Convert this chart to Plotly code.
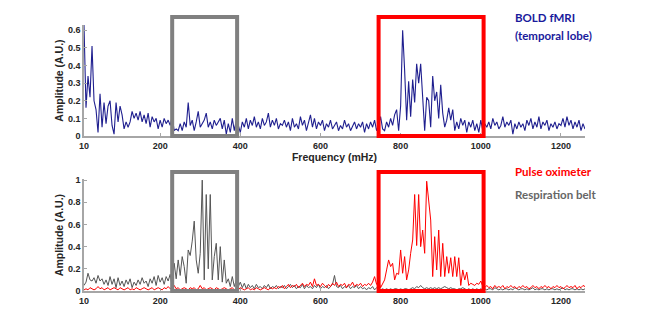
import plotly.graph_objects as go

# frequency grid (mHz)
freq = list(range(10, 1261, 5))

# BOLD fMRI (temporal lobe) amplitude spectrum
bold_amp = [
    # 10-225
    0.63, 0.16, 0.34, 0.22, 0.51, 0.20, 0.15, 0.02, 0.24, 0.05,
    0.19, 0.07, 0.17, 0.20, 0.06, 0.01, 0.19, 0.08, 0.17, 0.12,
    0.04, 0.08, 0.05, 0.08, 0.14, 0.10, 0.13, 0.09, 0.14, 0.08,
    0.12, 0.07, 0.13, 0.05, 0.11, 0.08, 0.10, 0.04, 0.09, 0.05,
    0.10, 0.07, 0.09, 0.06,
    # 230-390
    0.11, 0.03, 0.04, 0.03, 0.07, 0.03, 0.08, 0.05, 0.19, 0.06,
    0.09, 0.03, 0.08, 0.14, 0.05, 0.07, 0.09, 0.13, 0.05, 0.08,
    0.04, 0.09, 0.06, 0.08, 0.10, 0.04, 0.09, 0.01, 0.07, 0.02,
    0.10, 0.03, 0.09,
    # 395-745
    0.06, 0.02, 0.08, 0.05, 0.10, 0.04, 0.09, 0.06, 0.11, 0.05,
    0.08, 0.04, 0.10, 0.06, 0.08, 0.13, 0.05, 0.09, 0.06, 0.10,
    0.04, 0.07, 0.06, 0.09, 0.05, 0.08, 0.03, 0.10, 0.05, 0.07,
    0.04, 0.11, 0.06, 0.09, 0.03, 0.08, 0.12, 0.05, 0.10, 0.04,
    0.08, 0.06, 0.09, 0.03, 0.07, 0.05, 0.09, 0.04, 0.06, 0.08,
    0.03, 0.06, 0.04, 0.09, 0.05, 0.07, 0.03, 0.06, 0.08, 0.04,
    0.07, 0.05, 0.08, 0.02, 0.07, 0.04, 0.08, 0.05, 0.09, 0.03,
    0.06,
    # 750-1000
    0.11, 0.04, 0.03, 0.08, 0.05, 0.10, 0.06, 0.12, 0.15, 0.03,
    0.17, 0.60, 0.37, 0.09, 0.31, 0.11, 0.32, 0.19, 0.41, 0.30,
    0.41, 0.19, 0.03, 0.22, 0.20, 0.05, 0.34, 0.20, 0.25, 0.10,
    0.29, 0.13, 0.05, 0.09, 0.16, 0.09, 0.15, 0.03, 0.08, 0.04,
    0.10, 0.06, 0.09, 0.02, 0.08, 0.05, 0.09, 0.03, 0.07, 0.02,
    0.09,
    # 1005-1260
    0.03, 0.07, 0.05, 0.08, 0.04, 0.10, 0.06, 0.08, 0.04, 0.06,
    0.11, 0.05, 0.08, 0.06, 0.09, 0.01, 0.07, 0.04, 0.08, 0.05,
    0.07, 0.03, 0.09, 0.06, 0.10, 0.04, 0.08, 0.05, 0.11, 0.04,
    0.08, 0.06, 0.09, 0.03, 0.07, 0.05, 0.08, 0.04, 0.07, 0.06,
    0.10, 0.05, 0.11, 0.06, 0.09, 0.04, 0.08, 0.05, 0.09, 0.03,
    0.07, 0.04,
]

# Respiration belt amplitude spectrum
resp_amp = [
    # 10-225
    0.05, 0.08, 0.16, 0.10, 0.09, 0.12, 0.07, 0.14, 0.09, 0.11,
    0.06, 0.10, 0.05, 0.13, 0.06, 0.11, 0.03, 0.12, 0.05, 0.09,
    0.04, 0.10, 0.06, 0.11, 0.03, 0.08, 0.05, 0.10, 0.06, 0.12,
    0.07, 0.09, 0.04, 0.11, 0.07, 0.13, 0.05, 0.14, 0.08, 0.12,
    0.06, 0.13, 0.09, 0.15,
    # 230-390
    0.04, 0.25, 0.11, 0.28, 0.14, 0.31, 0.22, 0.07, 0.37, 0.32,
    0.45, 0.63, 0.28, 0.16, 0.34, 1.00, 0.10, 0.87, 0.20, 0.87,
    0.10, 0.31, 0.43, 0.10, 0.40, 0.08, 0.28, 0.07, 0.11, 0.04,
    0.13, 0.04, 0.10,
    # 395-745
    0.04, 0.08, 0.03, 0.07, 0.02, 0.06, 0.03, 0.05, 0.02, 0.06,
    0.03, 0.04, 0.02, 0.05, 0.03, 0.06, 0.02, 0.04, 0.03, 0.05,
    0.02, 0.04, 0.03, 0.05, 0.02, 0.04, 0.06, 0.03, 0.05, 0.02,
    0.04, 0.03, 0.06, 0.02, 0.05, 0.03, 0.04, 0.02, 0.05, 0.03,
    0.06, 0.02, 0.04, 0.03, 0.05, 0.02, 0.04, 0.06, 0.14, 0.04,
    0.03, 0.05, 0.02, 0.04, 0.03, 0.05, 0.02, 0.04, 0.03, 0.05,
    0.02, 0.04, 0.02, 0.03, 0.01, 0.03, 0.02, 0.04, 0.01, 0.03,
    0.02,
    # 750-1000
    0.01, 0.02, 0.01, 0.02, 0.01, 0.02, 0.01, 0.02, 0.02, 0.01,
    0.02, 0.01, 0.02, 0.02, 0.01, 0.02, 0.03, 0.02, 0.04, 0.03,
    0.05, 0.03, 0.02, 0.03, 0.02, 0.03, 0.02, 0.03, 0.02, 0.03,
    0.02, 0.03, 0.04, 0.03, 0.02, 0.03, 0.02, 0.02, 0.01, 0.02,
    0.02, 0.03, 0.02, 0.01, 0.02, 0.01, 0.02, 0.01, 0.02, 0.01,
    0.02,
    # 1005-1260
    0.01, 0.02, 0.01, 0.02, 0.02, 0.01, 0.03, 0.02, 0.01, 0.02,
    0.01, 0.02, 0.02, 0.01, 0.02, 0.01, 0.03, 0.02, 0.01, 0.02,
    0.02, 0.01, 0.02, 0.01, 0.02, 0.03, 0.01, 0.02, 0.01, 0.02,
    0.02, 0.01, 0.02, 0.01, 0.02, 0.02, 0.01, 0.02, 0.01, 0.02,
    0.03, 0.01, 0.02, 0.01, 0.02, 0.02, 0.01, 0.02, 0.01, 0.02,
    0.01, 0.02,
]

# Pulse oximeter amplitude spectrum
pulse_amp = [
    # 10-225
    0.01, 0.02, 0.01, 0.03, 0.02, 0.01, 0.02, 0.04, 0.02, 0.03,
    0.01, 0.02, 0.03, 0.01, 0.02, 0.03, 0.02, 0.01, 0.03, 0.02,
    0.01, 0.02, 0.03, 0.01, 0.02, 0.01, 0.03, 0.02, 0.01, 0.02,
    0.03, 0.02, 0.01, 0.02, 0.03, 0.01, 0.02, 0.03, 0.02, 0.01,
    0.03, 0.02, 0.04, 0.02,
    # 230-390
    0.03, 0.05, 0.02, 0.03, 0.01, 0.02, 0.03, 0.02, 0.01, 0.03,
    0.02, 0.03, 0.01, 0.02, 0.05, 0.02, 0.03, 0.01, 0.02, 0.03,
    0.02, 0.01, 0.03, 0.02, 0.01, 0.02, 0.03, 0.02, 0.01, 0.02,
    0.03, 0.01, 0.02,
    # 395-745
    0.01, 0.03, 0.02, 0.01, 0.02, 0.03, 0.01, 0.02, 0.01, 0.03,
    0.02, 0.01, 0.02, 0.03, 0.02, 0.01, 0.03, 0.02, 0.03, 0.02,
    0.04, 0.03, 0.05, 0.02, 0.04, 0.06, 0.03, 0.05, 0.04, 0.06,
    0.03, 0.05, 0.07, 0.04, 0.06, 0.05, 0.08, 0.04, 0.11, 0.05,
    0.06, 0.04, 0.07, 0.05, 0.03, 0.06, 0.04, 0.07, 0.05, 0.08,
    0.04, 0.06, 0.05, 0.07, 0.03, 0.06, 0.05, 0.08, 0.04, 0.06,
    0.05, 0.07, 0.04, 0.06, 0.05, 0.07, 0.05, 0.08, 0.13, 0.06,
    0.09,
    # 750-1000
    0.03, 0.06, 0.10, 0.19, 0.28, 0.22, 0.25, 0.10, 0.16, 0.15,
    0.37, 0.16, 0.31, 0.10, 0.19, 0.34, 0.46, 0.87, 0.41, 0.87,
    0.40, 0.55, 0.34, 0.99, 0.82, 0.64, 0.13, 0.49, 0.19, 0.55,
    0.13, 0.43, 0.13, 0.31, 0.16, 0.30, 0.13, 0.31, 0.13, 0.30,
    0.05, 0.19, 0.10, 0.17, 0.05, 0.07, 0.06, 0.05, 0.07, 0.06,
    0.09,
    # 1005-1260
    0.04, 0.03, 0.05, 0.03, 0.04, 0.02, 0.05, 0.03, 0.04, 0.03,
    0.05, 0.02, 0.04, 0.03, 0.05, 0.03, 0.04, 0.02, 0.04, 0.03,
    0.05, 0.03, 0.04, 0.02, 0.03, 0.05, 0.03, 0.04, 0.02, 0.04,
    0.03, 0.05, 0.03, 0.04, 0.02, 0.04, 0.03, 0.05, 0.03, 0.04,
    0.02, 0.03, 0.05, 0.03, 0.04, 0.03, 0.05, 0.02, 0.04, 0.03,
    0.05, 0.04,
]

x_ticks = [10, 200, 400, 600, 800, 1000, 1200]
top_y_ticks = [0, 0.1, 0.2, 0.3, 0.4, 0.5, 0.6]
bottom_y_ticks = [0, 0.2, 0.4, 0.6, 0.8, 1]
resp_band = [230, 392]
cardiac_band = [745, 1007]

# page is offset by the default 8px body margin; lay out in page pixels
OFF = 8
PAGE_W, PAGE_H = 669, 328
W, H = PAGE_W - OFF, PAGE_H - OFF
PL, PR, PT, PB = 84, 585, 25, 291          # plot area edges in page pixels
ML, MT = PL - OFF, PT - OFF
MR, MB = W - (PR - OFF), H - (PB - OFF)
plot_h = PB - PT
plot_w = PR - PL
def py(ypx):
    return (PB - ypx) / plot_h
def px(xpx):
    return (xpx - PL) / plot_w

TICK_FONT = dict(family="Liberation Sans, Arial, sans-serif", size=9, color="#262626", weight="bold")
TITLE_FONT = dict(family="Liberation Sans, Arial, sans-serif", size=10.5, color="#262626", weight="bold")
AXIS_COLOR = "#a6a6a6"

fig = go.Figure()
fig.add_trace(go.Scatter(x=freq, y=bold_amp, mode="lines", line=dict(color="#1f1f8f", width=1.1),
                         xaxis="x", yaxis="y", showlegend=False, hoverinfo="skip"))
fig.add_trace(go.Scatter(x=freq, y=resp_amp, mode="lines", line=dict(color="#555555", width=1),
                         xaxis="x2", yaxis="y2", showlegend=False, hoverinfo="skip"))
fig.add_trace(go.Scatter(x=freq, y=pulse_amp, mode="lines", line=dict(color="#ff0000", width=1),
                         xaxis="x2", yaxis="y2", showlegend=False, hoverinfo="skip"))

xcommon = dict(range=[10, 1260], tickvals=x_ticks, showgrid=False, zeroline=False,
               showline=True, linecolor=AXIS_COLOR, linewidth=1.5, ticks="inside",
               ticklen=3, tickcolor=AXIS_COLOR, tickfont=TICK_FONT)
ycommon = dict(showgrid=False, zeroline=False, showline=True, linecolor=AXIS_COLOR,
               linewidth=1.5, ticks="inside", ticklen=3, tickcolor=AXIS_COLOR,
               tickfont=TICK_FONT)

fig.update_layout(
    width=W, height=H,
    margin=dict(l=ML, r=MR, t=MT, b=MB),
    paper_bgcolor="white", plot_bgcolor="white",
    xaxis=dict(domain=[0, 1], anchor="y", **xcommon,
               title=dict(text="Frequency (mHz)", font=TITLE_FONT, standoff=2)),
    yaxis=dict(domain=[py(136), 1], anchor="x", range=[0, 0.63], tickvals=top_y_ticks,
               **ycommon, title=dict(text="Amplitude (A.U.)", font=TITLE_FONT, standoff=2)),
    xaxis2=dict(domain=[0, 1], anchor="y2", **xcommon),
    yaxis2=dict(domain=[0, py(179)], anchor="x2", range=[0, 1.01], tickvals=bottom_y_ticks,
                **ycommon, title=dict(text="Amplitude (A.U.)", font=TITLE_FONT, standoff=2)),
)

# highlight boxes
for (x0, x1), color in [(resp_band, "#808080"), (cardiac_band, "#ff0000")]:
    fig.add_shape(type="rect", xref="x", yref="paper", x0=x0, x1=x1, y0=py(136), y1=py(17),
                  line=dict(color=color, width=4), fillcolor="rgba(0,0,0,0)", layer="above")
    fig.add_shape(type="rect", xref="x2", yref="paper", x0=x0, x1=x1, y0=py(291), y1=py(172),
                  line=dict(color=color, width=4), fillcolor="rgba(0,0,0,0)", layer="above")

LABEL_FONT = "Lato, Open Sans, sans-serif"
labels = [
    ("BOLD fMRI", 17, "#1a1a9c"),
    ("(temporal lobe)", 36, "#1a1a9c"),
    ("Pulse oximeter", 171, "#ff0000"),
    ("Respiration belt", 194, "#666666"),
]
for text, ypx, color in labels:
    fig.add_annotation(text=text, xref="paper", yref="paper", x=px(513), y=py(ypx),
                       xanchor="left", yanchor="middle", showarrow=False,
                       font=dict(family=LABEL_FONT, size=11.5, color=color, weight="bold"))

fig.write_html("out.html")
